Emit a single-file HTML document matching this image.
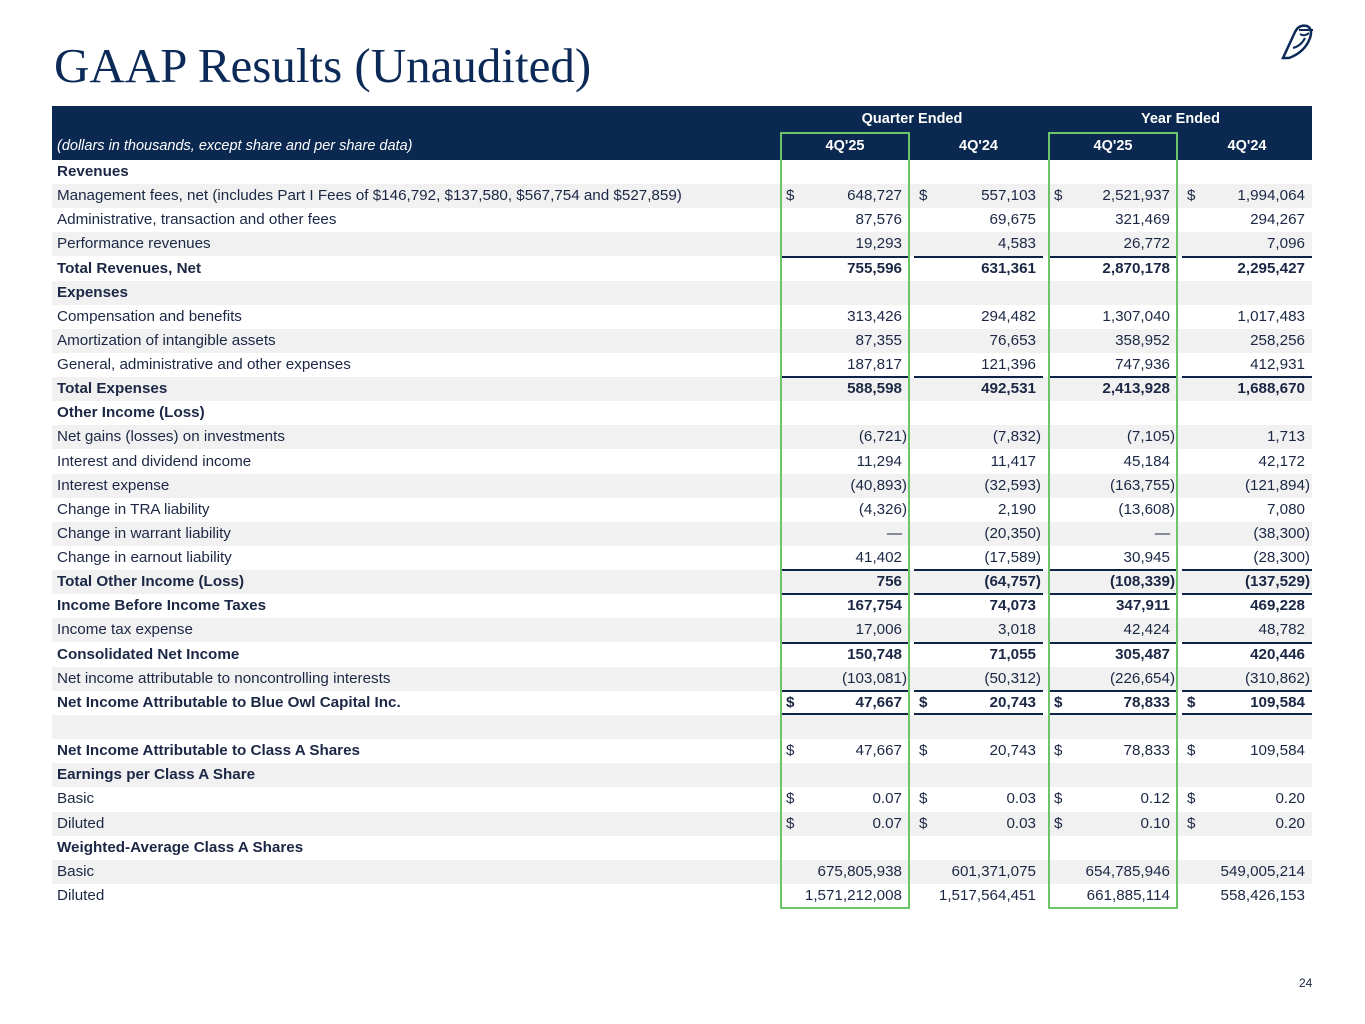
<!DOCTYPE html>
<html><head><meta charset="utf-8">
<style>
body{margin:0;background:#fff;}
#page{position:relative;width:1365px;height:1024px;overflow:hidden;font-family:"Liberation Sans",Arial,sans-serif;color:#1b2744;}
.title{position:absolute;left:54px;top:37px;font-family:"Liberation Serif",serif;font-size:49px;color:#0c2a57;white-space:nowrap;}
.hdr{position:absolute;left:52px;top:106px;width:1260px;height:54px;background:#0a2850;}
.ht{position:absolute;color:#fff;font-size:14.5px;font-weight:bold;text-align:center;line-height:27px;}
.row{position:absolute;left:52px;width:1260px;height:24px;}
.lbl{position:absolute;left:5px;top:0;line-height:24px;font-size:15.2px;white-space:nowrap;}
.v{position:absolute;top:0;line-height:24px;font-size:15.2px;text-align:right;white-space:nowrap;}
.d{position:absolute;top:0;line-height:24px;font-size:15.2px;}
.ln{position:absolute;height:2px;background:#0d2347;}
.gb{position:absolute;border:2px solid #6cc56a;box-sizing:border-box;}
</style></head><body>
<div id="page">
<div class="title">GAAP Results (Unaudited)</div>
<svg style="position:absolute;left:1275px;top:18px" width="44" height="46" viewBox="0 0 44 46">
<path d="M8 40 L20 14 Q24 6 32 8 Q38 11 35 20 Q30 34 14 40 Z" fill="none" stroke="#0c2a57" stroke-width="2.5"/>
<path d="M24 12 L38 12 M25 16 Q29 19 34 15 M18 30 Q26 28 30 20" fill="none" stroke="#0c2a57" stroke-width="2"/>
</svg>
<div class="hdr"></div>
<div class="ht" style="left:781px;width:262px;top:106px">Quarter Ended</div>
<div class="ht" style="left:1049px;width:263px;top:106px">Year Ended</div>
<div class="ht" style="left:57px;top:133px;font-weight:normal;font-style:italic;text-align:left">(dollars in thousands, except share and per share data)</div>
<div class="ht" style="left:781px;width:128px;top:133px">4Q'25</div>
<div class="ht" style="left:914px;width:129px;top:133px">4Q'24</div>
<div class="ht" style="left:1049px;width:128px;top:133px">4Q'25</div>
<div class="ht" style="left:1182px;width:130px;top:133px">4Q'24</div>
<div id="body"></div>
<div class="gb" style="left:780px;top:132px;width:130px;height:777px"></div>
<div class="gb" style="left:1048px;top:132px;width:130px;height:777px"></div>
<div style="position:absolute;left:1299px;top:976px;font-size:12px;color:#1b2744">24</div>
</div>
<script>
const labels=["Revenues","Management fees, net (includes Part I Fees of $146,792, $137,580, $567,754 and $527,859)","Administrative, transaction and other fees","Performance revenues","Total Revenues, Net","Expenses","Compensation and benefits","Amortization of intangible assets","General, administrative and other expenses","Total Expenses","Other Income (Loss)","Net gains (losses) on investments","Interest and dividend income","Interest expense","Change in TRA liability","Change in warrant liability","Change in earnout liability","Total Other Income (Loss)","Income Before Income Taxes","Income tax expense","Consolidated Net Income","Net income attributable to noncontrolling interests","Net Income Attributable to Blue Owl Capital Inc.","","Net Income Attributable to Class A Shares","Earnings per Class A Share","Basic","Diluted","Weighted-Average Class A Shares","Basic","Diluted"];
const q25=["","648,727","87,576","19,293","755,596","","313,426","87,355","187,817","588,598","","(6,721)","11,294","(40,893)","(4,326)","—","41,402","756","167,754","17,006","150,748","(103,081)","47,667","","47,667","","0.07","0.07","","675,805,938","1,571,212,008"];
const q24=["","557,103","69,675","4,583","631,361","","294,482","76,653","121,396","492,531","","(7,832)","11,417","(32,593)","2,190","(20,350)","(17,589)","(64,757)","74,073","3,018","71,055","(50,312)","20,743","","20,743","","0.03","0.03","","601,371,075","1,517,564,451"];
const y25=["","2,521,937","321,469","26,772","2,870,178","","1,307,040","358,952","747,936","2,413,928","","(7,105)","45,184","(163,755)","(13,608)","—","30,945","(108,339)","347,911","42,424","305,487","(226,654)","78,833","","78,833","","0.12","0.10","","654,785,946","661,885,114"];
const y24=["","1,994,064","294,267","7,096","2,295,427","","1,017,483","258,256","412,931","1,688,670","","1,713","42,172","(121,894)","7,080","(38,300)","(28,300)","(137,529)","469,228","48,782","420,446","(310,862)","109,584","","109,584","","0.20","0.20","","549,005,214","558,426,153"];
const boldRows=[0,4,5,9,10,17,18,20,22,24,25,28];
const boldValueRows=[4,9,17,18,20,22];
const dollarRows=[1,22,24,26,27];
const topLineRows=[4,9,17,18,20,22];
const series=[q25,q24,y25,y24];
const colL=[729,862,997,1130], colR=[857,991,1125,1260];
const body=document.getElementById('body');
labels.forEach((lab,i)=>{
  const r=document.createElement('div');r.className='row';
  
  
  r.style.top=(160+i*24.13)+'px';
  if(i%2===1) r.style.background='#f1f1f1';
  const b=boldRows.includes(i);
  const bv=boldValueRows.includes(i);
  const l=document.createElement('div');l.className='lbl';l.textContent=lab;
  
  
  if(b) l.style.fontWeight='bold';
  r.appendChild(l);
  series.forEach((s,c)=>{
    const txt=s[i];
    if(dollarRows.includes(i)){
      const d=document.createElement('div');d.className='d';d.textContent='$';
      
      
      d.style.left=(colL[c]+5)+'px';if(bv)d.style.fontWeight='bold';r.appendChild(d);
    }
    if(txt){
      const v=document.createElement('div');v.className='v';
      
      
      const neg=txt.startsWith('(');
      v.textContent=txt;
      v.style.right=(1260-colR[c]+7-(neg?5:0))+'px';
      if(bv)v.style.fontWeight='bold';
      r.appendChild(v);
    }
    if(topLineRows.includes(i)){
      const ln=document.createElement('div');ln.className='ln';
      
      
      ln.style.left=colL[c]+'px';ln.style.width=(colR[c]-colL[c])+'px';ln.style.top='-1px';r.appendChild(ln);
    }
    if(i===22){
      [22,25].forEach(t=>{
        const ln=document.createElement('div');ln.className='ln';
        
        
        ln.style.left=colL[c]+'px';ln.style.width=(colR[c]-colL[c])+'px';ln.style.top=t+'px';r.appendChild(ln);
      });
    }
  });
  body.appendChild(r);
});
</script>
</body></html>
